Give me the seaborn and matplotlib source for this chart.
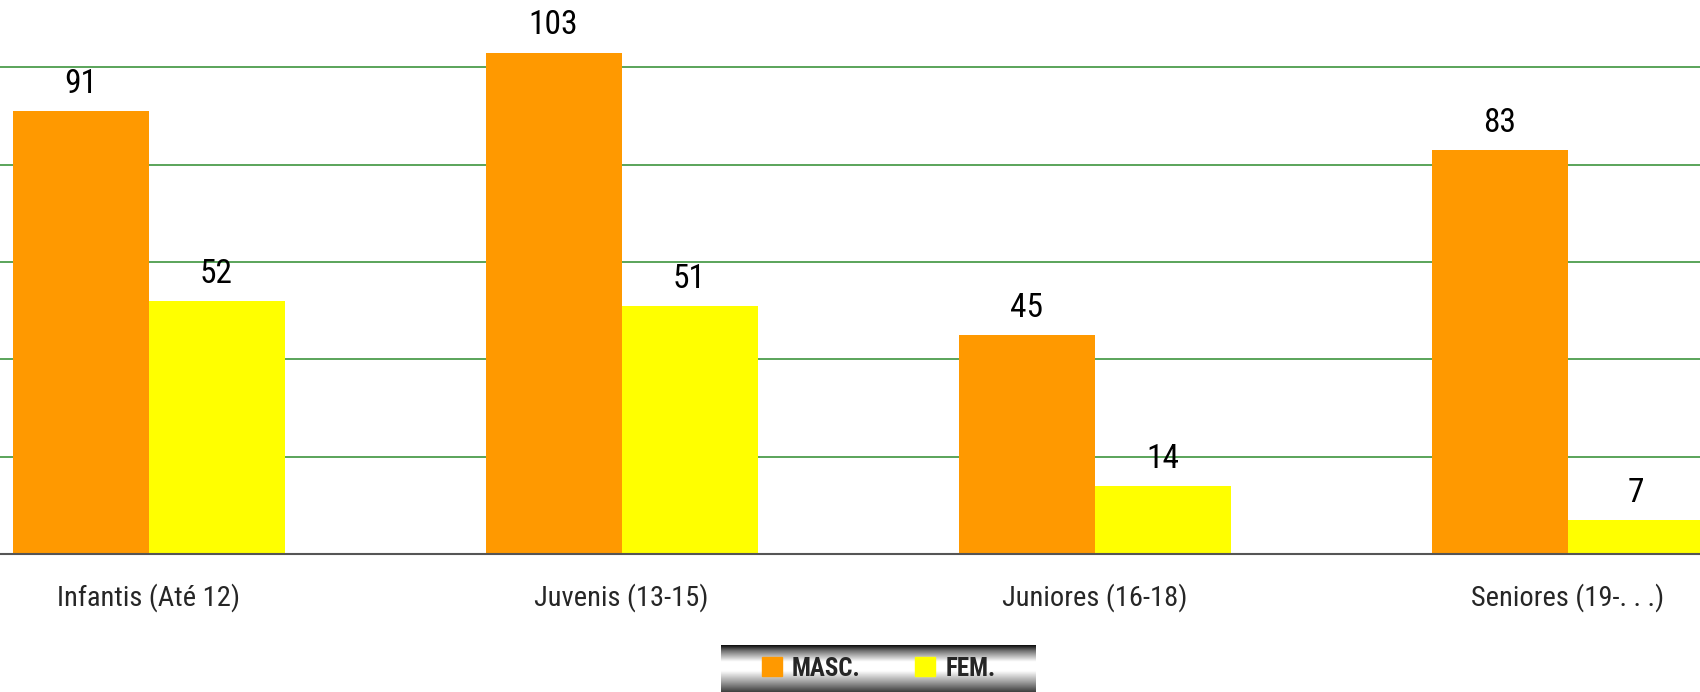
import numpy as np
import pandas as pd
import seaborn as sns
import matplotlib.pyplot as plt
from matplotlib.patches import Patch

# dados
escaloes = ["Infantis (Até 12)", "Juvenis (13-15)", "Juniores (16-18)", "Seniores (19-. . .)"]
masc = [91, 103, 45, 83]
fem = [52, 51, 14, 7]
series = ["MASC.", "FEM."]
cores = ["#FF9900", "#FFFF00"]

df = pd.DataFrame({
    "escalao": escaloes * 2,
    "sexo": [series[0]] * len(masc) + [series[1]] * len(fem),
    "valor": masc + fem,
})

sns.set_style("white")
plt.rcParams["font.family"] = ["Liberation Sans Narrow", "DejaVu Sans Condensed",
                               "Roboto Condensed", "Roboto", "DejaVu Sans"]

fig = plt.figure(figsize=(17, 6.92), dpi=100)
ax = fig.add_axes([0, 138 / 692, 1, 554 / 692])

sns.barplot(data=df, x="escalao", y="valor", hue="sexo", palette=cores,
            width=0.575, saturation=1, edgecolor="none", legend=False, ax=ax)

for c in ax.containers:
    ax.bar_label(c, padding=8, fontsize=24, color="black")

ax.set_ylim(0, 113.8)
ax.set_xlim(-0.314, 3.28)
ax.set_yticks([20, 40, 60, 80, 100])
ax.yaxis.grid(True, color="#2e8b2e", linewidth=1.1)
ax.set_axisbelow(True)
ax.tick_params(axis="y", left=False, labelleft=False)
ax.set_xticks(range(len(escaloes)))
ax.set_xticklabels(escaloes, fontsize=20.5)
ax.tick_params(axis="x", which="major", length=0, pad=21)
ax.set_xticks([0.5, 1.5, 2.5], minor=True)
ax.tick_params(axis="x", which="minor", length=9, width=1, color="#555555", direction="out")
ax.set_xlabel("")
ax.set_ylabel("")
for s in ["left", "right", "top"]:
    ax.spines[s].set_visible(False)
ax.spines["bottom"].set_color("#555555")
ax.spines["bottom"].set_linewidth(1.5)

# legenda com fundo metalizado
lax = fig.add_axes([721 / 1700, 0, (1036 - 721) / 1700, 47 / 692])
perfil_y = [0.0, 0.12, 0.35, 0.55, 0.8, 1.0]
perfil_v = [0.05, 0.45, 1.0, 1.0, 0.6, 0.25]
grad = np.interp(np.linspace(0, 1, 100), perfil_y, perfil_v).reshape(-1, 1)
lax.imshow(grad, cmap="gray", vmin=0, vmax=1, aspect="auto", extent=[0, 1, 0, 1])
lax.set_axis_off()
handles = [Patch(color=cores[0]), Patch(color=cores[1])]
lax.legend(handles, series, loc="center", ncol=2, frameon=False,
           handlelength=0.8, handleheight=0.8, handletextpad=0.4,
           columnspacing=2.2, borderaxespad=0,
           prop={"weight": "bold", "size": 18})

fig.savefig("out.png", dpi=100)
